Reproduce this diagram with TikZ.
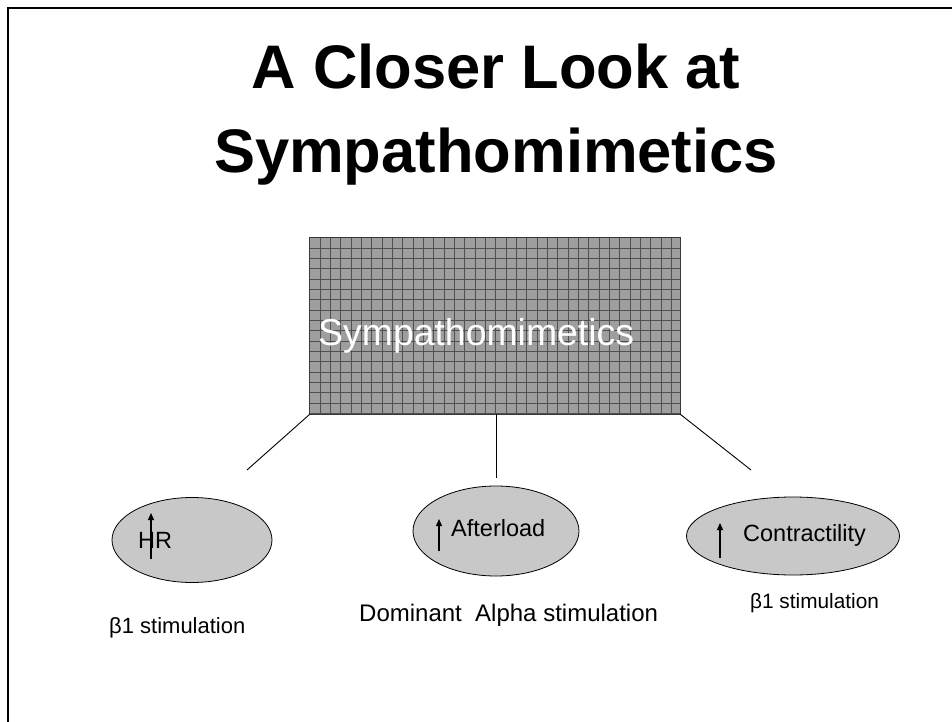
\documentclass[tikz,border=0pt]{standalone}
\usepackage{fontspec}
\setmainfont{Liberation Sans}
\usetikzlibrary{shapes.geometric,arrows.meta}
\definecolor{hubgray}{HTML}{9E9E9E}
\definecolor{gridgray}{HTML}{505050}
\definecolor{bubblegray}{HTML}{C8C8C8}
\begin{document}
\begin{tikzpicture}[x=1pt,y=-1pt,
  headline/.style={font=\bfseries\fontsize{61.5}{70}\selectfont, anchor=base},
  bubble/.style={ellipse, draw=black, line width=0.8pt, fill=bubblegray, inner sep=0pt},
  bubbletext/.style={font=\fontsize{23.5}{26}\selectfont, anchor=base west, inner sep=0pt},
  uparrow/.style={line width=1.1pt, -{Triangle[length=7pt,width=6pt]}},
  gridline/.style={draw=gridgray, line width=0.9pt},
  link/.style={draw=black, line width=0.9pt},
  note/.style={anchor=base west, inner sep=0pt}]
\useasboundingbox (0,0) rectangle (952,722);

% slide frame
\draw[line width=2.5pt, line join=miter] (8,722) -- (8,8) -- (952,8);

% title
\node[headline] (title1) at (496,89) {A Closer Look at};
\node[headline] (title2) at (496,173) {Sympathomimetics};

% hatched central box
\node[rectangle, fill=hubgray, minimum width=370pt, minimum height=176pt, inner sep=0pt] (hub) at (495,326) {};
\begin{scope}
  \clip (hub.south west) rectangle (hub.north east);
  \foreach \k in {0,...,36}
    \draw[gridline] ([xshift=\k*10.33pt]hub.north west) -- ([xshift=\k*10.33pt]hub.south west);
  \foreach \k in {0,...,17}
    \draw[gridline] ([yshift=-\k*10.33pt]hub.north west) -- ([yshift=-\k*10.33pt]hub.north east);
\end{scope}
\draw[draw=gridgray!70!black, line width=1.2pt] (hub.south west) rectangle (hub.north east);
\node[text=white, font=\fontsize{37.4}{40}\selectfont, anchor=base west, inner sep=0pt] (hublabel) at (318,345) {Sympathomimetics};

% connectors
\coordinate (endL) at (247,470);
\coordinate (endM) at (496,478);
\coordinate (endR) at (751,470);
\draw[link] (hub.south west) -- (endL);
\draw[link] (hub.south west -| endM) -- (endM);
\draw[link] (hub.south east) -- (endR);

% effect bubbles
\node[bubble, minimum width=160pt, minimum height=85pt] (hr) at (192,540) {};
\node[bubble, minimum width=166pt, minimum height=90pt] (after) at (496,531) {};
\node[bubble, minimum width=213pt, minimum height=78pt] (contr) at (793,536) {};

\node[bubbletext] (hrtext) at (138,548) {HR};
\node[bubbletext] (aftertext) at (451,536) {Afterload};
\node[bubbletext] (contrtext) at (743,541) {Contractility};

\coordinate (hrA) at (151,559);   \coordinate (hrB) at (151,513);
\coordinate (afA) at (439,551);   \coordinate (afB) at (439,519);
\coordinate (coA) at (720,558);   \coordinate (coB) at (720,523);
\draw[uparrow] (hrA) -- (hrB);
\draw[uparrow] (afA) -- (afB);
\draw[uparrow] (coA) -- (coB);

% receptor notes
\node[note, font=\fontsize{22}{26}\selectfont] (noteL) at (109,633) {β1 stimulation};
\node[note, font=\fontsize{24}{28}\selectfont] (noteM) at (359,621) {Dominant\ \ Alpha stimulation};
\node[note, font=\fontsize{20.8}{25}\selectfont] (noteR) at (750,608) {β1 stimulation};
\end{tikzpicture}
\end{document}
